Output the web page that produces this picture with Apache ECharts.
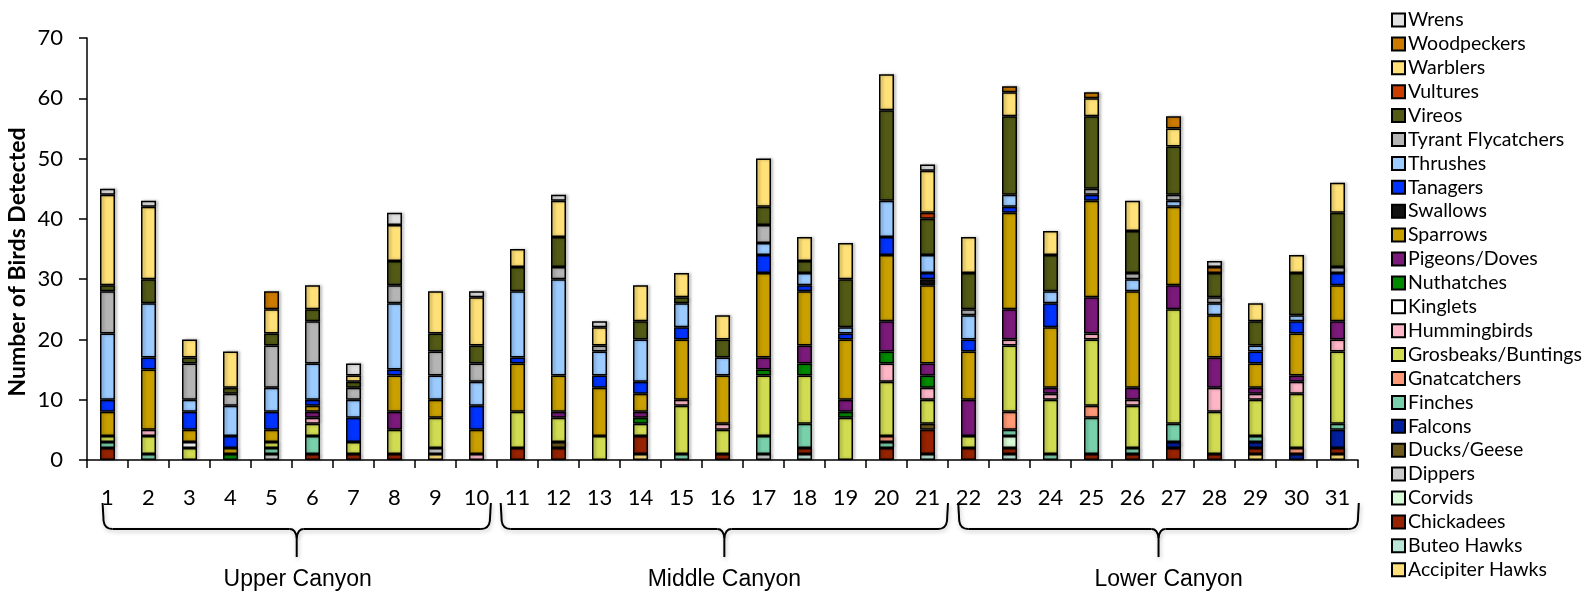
<!DOCTYPE html>
<html><head><meta charset="utf-8">
<script src="https://cdn.jsdelivr.net/npm/echarts@6/dist/echarts.min.js"></script>
<style>html,body{margin:0;padding:0;background:#fff}#c{width:1594px;height:597px}</style>
</head><body><div id="c"></div>
<script>
// ---------- DATA ----------
const sites = ['1','2','3','4','5','6','7','8','9','10','11','12','13','14','15','16','17','18','19','20','21','22','23','24','25','26','27','28','29','30','31'];
const yTicks = [0,10,20,30,40,50,60,70];
const groupNames = ['Upper Canyon','Middle Canyon','Lower Canyon'];
const groupFirst = [0,10,21];
const groupLast  = [9,20,30];

const accipiterHawks = [0,0,0,0,0,0,0,0,1,0, 0,0,0,1,0,0,0,0,0,0,0, 0,0,0,0,0,0,0,1,0,1];
const buteoHawks     = [0,0,0,0,0,0,0,0,0,0, 0,0,0,0,0,0,0,1,0,0,1, 0,1,0,0,0,0,0,0,0,0];
const chickadees     = [2,0,0,0,0,1,1,1,0,0, 2,2,0,3,0,1,0,1,0,2,4, 2,1,0,1,1,2,1,1,0,1];
const corvids        = [0,0,0,0,0,0,0,0,0,0, 0,0,0,0,0,0,0,0,0,0,0, 0,2,0,0,0,0,0,0,0,0];
const dippers        = [0,0,0,0,1,0,0,0,1,0, 0,0,0,0,0,0,1,0,0,0,0, 0,0,0,0,0,0,0,0,0,0];
const ducksGeese     = [0,0,0,0,0,0,0,0,0,0, 0,1,0,0,0,0,0,0,0,0,1, 0,0,0,0,0,0,0,0,0,0];
const falcons        = [0,0,0,0,0,0,0,0,0,0, 0,0,0,0,0,0,0,0,0,0,0, 0,0,0,0,0,1,0,1,1,3];
const finches        = [1,1,0,0,1,3,0,0,0,0, 0,0,0,0,1,0,3,4,0,1,0, 0,1,1,6,1,3,0,1,0,1];
const gnatcatchers   = [0,0,0,0,0,0,0,0,0,0, 0,0,0,0,0,0,0,0,0,1,0, 0,3,0,2,0,0,0,0,1,0];
const grosbeaks      = [1,3,2,0,1,2,2,4,5,0, 6,4,4,2,8,4,10,8,7,9,4, 2,11,9,11,7,19,7,6,9,12];
const hummingbirds   = [0,1,0,0,0,1,0,0,0,1, 0,0,0,0,1,1,0,0,0,3,2, 0,1,1,1,1,0,4,1,2,2];
const kinglets       = [0,0,1,0,0,0,0,0,0,0, 0,0,0,0,0,0,0,0,0,0,0, 0,0,0,0,0,0,0,0,0,0];
const nuthatches     = [0,0,0,1,0,0,0,0,0,0, 0,0,0,1,0,0,1,2,1,2,2, 0,0,0,0,0,0,0,0,0,0];
const pigeonsDoves   = [0,0,0,0,0,1,0,3,0,0, 0,1,0,1,0,0,2,3,2,5,2, 6,5,1,6,2,4,5,1,1,3];
const sparrows       = [4,10,2,1,2,1,0,6,3,4, 8,6,8,3,10,8,14,9,10,11,13, 8,16,10,16,16,13,7,4,7,6];
const swallows       = [0,0,0,0,0,0,0,0,0,0, 0,0,0,0,0,0,0,0,0,0,1, 0,0,0,0,0,0,0,0,0,0];
const tanagers       = [2,2,3,2,3,1,4,1,0,4, 1,0,2,2,2,0,3,1,1,3,1, 2,1,4,1,0,0,0,2,2,2];
const thrushes       = [11,9,2,5,4,6,3,11,4,4, 11,16,4,7,4,3,2,2,1,6,3, 4,2,2,0,2,1,2,1,1,0];
const tyrantFly      = [7,0,6,2,7,7,2,3,4,3, 0,2,1,0,0,0,3,0,0,0,0, 1,0,0,1,1,1,1,0,0,1];
const vireos         = [1,4,1,1,2,2,1,4,3,3, 4,5,0,3,1,3,3,2,8,15,6, 6,13,6,12,7,8,4,4,7,9];
const vultures       = [0,0,0,0,0,0,0,0,0,0, 0,0,0,0,0,0,0,0,0,0,1, 0,0,0,0,0,0,0,0,0,0];
const warblers       = [15,12,3,6,4,4,1,6,7,8, 3,6,3,6,4,4,8,4,6,6,7, 6,4,4,3,5,3,0,3,3,5];
const woodpeckers    = [0,0,0,0,3,0,0,0,0,0, 0,0,0,0,0,0,0,0,0,0,0, 0,1,0,1,0,2,1,0,0,0];
const wrens          = [1,1,0,0,0,0,2,2,0,1, 0,1,1,0,0,0,0,0,0,0,1, 0,0,0,0,0,0,1,0,0,0];

// bottom -> top stacking order
const seriesNames = ['Accipiter Hawks','Buteo Hawks','Chickadees','Corvids','Dippers','Ducks/Geese','Falcons','Finches','Gnatcatchers','Grosbeaks/Buntings','Hummingbirds','Kinglets','Nuthatches','Pigeons/Doves','Sparrows','Swallows','Tanagers','Thrushes','Tyrant Flycatchers','Vireos','Vultures','Warblers','Woodpeckers','Wrens'];
const seriesValues = [accipiterHawks,buteoHawks,chickadees,corvids,dippers,ducksGeese,falcons,finches,gnatcatchers,grosbeaks,hummingbirds,kinglets,nuthatches,pigeonsDoves,sparrows,swallows,tanagers,thrushes,tyrantFly,vireos,vultures,warblers,woodpeckers,wrens];

// ---------- STYLE ----------
const colors = ['#ffe07a','#b9e6d6','#972300','#d8fad6','#cbcbcb','#6e5a1c','#0020a0','#79d1ac','#ff9a78','#d1dc52','#ffb7c8','#ffffff','#008a00','#7b1a7b','#c9a000','#111111','#0033ff','#9ccbff','#b5b5b5','#525a16','#cc3d00','#ffe178','#cc7a00','#e1e1e1'];
const braceOffsets = [[-0.12,0.35,1],[-0.41,0.50,0],[-0.25,0.52,10]]; // left, right (cat widths), label dx (px)

const chart = echarts.init(document.getElementById('c'));
const series = seriesNames.map((n,i)=>({
  name:n, type:'bar', stack:'all', barWidth:15,
  data: seriesValues[i].map(v=> v===0 ? null : v),
  itemStyle:{color:colors[i], borderColor:'#000', borderWidth:1.5,
    shadowBlur:3, shadowColor:'rgba(0,0,0,0.28)', shadowOffsetX:2, shadowOffsetY:0},
  emphasis:{disabled:true}
}));

chart.setOption({
  animation:false,
  grid:{left:87, right:236, top:38, bottom:137},
  legend:{type:'plain', orient:'vertical', left:1386, top:5, height:590, itemWidth:13, itemHeight:13, itemGap:3.9,
    icon:'rect', data: seriesNames.slice().reverse(),
    itemStyle:{shadowBlur:0, shadowOffsetX:0},
    textStyle:{fontFamily:'Lato', fontSize:19.5, lineHeight:19.5, color:'#000', padding:[0,0,0,-2]}, selectedMode:false},
  xAxis:{type:'category', data:sites,
    axisLine:{lineStyle:{color:'#000', width:1.5}},
    axisTick:{show:true, length:8, lineStyle:{color:'#000', width:1.5}},
    axisLabel:{fontFamily:'Lato', fontSize:22, color:'#000', margin:27}},
  yAxis:{type:'value', min:yTicks[0], max:yTicks[yTicks.length-1], interval:10,
    axisLine:{show:true, lineStyle:{color:'#000', width:1.5}},
    axisTick:{show:true, length:8, lineStyle:{color:'#000', width:1.5}},
    splitLine:{show:false},
    axisLabel:{fontFamily:'Lato', fontSize:22, color:'#000', margin:24}},
  series: series
});

function drawBraces(){
  const els = [];
  const px = i => chart.convertToPixel({xAxisIndex:0}, i);
  const w = px(1) - px(0);
  const yTop = 503, yH = 529, yTip = 557;
  const st = {stroke:'#000', lineWidth:2, fill:null, shadowBlur:4, shadowColor:'rgba(0,0,0,0.25)', shadowOffsetX:1, shadowOffsetY:2};
  const line = (a,b,c,d)=>({type:'line', shape:{x1:a,y1:b,x2:c,y2:d}, style:st, silent:true});
  const curve = (a,b,cx,cy,c,d)=>({type:'bezierCurve', shape:{x1:a,y1:b,cpx1:cx,cpy1:cy,x2:c,y2:d}, style:st, silent:true});
  groupNames.forEach((g,i)=>{
    const x1 = px(groupFirst[i]) + braceOffsets[i][0]*w;
    const x2 = px(groupLast[i]) + braceOffsets[i][1]*w;
    const m = (x1+x2)/2;
    els.push(line(x1,yTop,x1+1,yH-8));
    els.push(curve(x1+1,yH-8,x1+2,yH,x1+10,yH));
    els.push(line(x1+10,yH,m-7,yH));
    els.push(curve(m-7,yH,m-1,yH,m,yH+9));
    els.push(line(m,yH+9,m,yTip));
    els.push(curve(m+7,yH,m+1,yH,m,yH+9));
    els.push(line(m+7,yH,x2-10,yH));
    els.push(curve(x2-10,yH,x2-2,yH,x2-1,yH-8));
    els.push(line(x2-1,yH-8,x2,yTop));
    els.push({type:'text', x:m+braceOffsets[i][2], y:580, style:{text:g, fontFamily:'Liberation Sans', fontSize:23, fill:'#000', align:'center', verticalAlign:'middle'}, silent:true});
  });
  els.push({type:'text', x:18, y:262, rotation:Math.PI/2, style:{text:'Number of Birds Detected', fontFamily:'Lato', fontWeight:'bold', fontSize:23, fill:'#000', align:'center', verticalAlign:'middle'}, silent:true});
  chart.setOption({graphic:{elements:els}});
}
drawBraces();
</script>
</body></html>
